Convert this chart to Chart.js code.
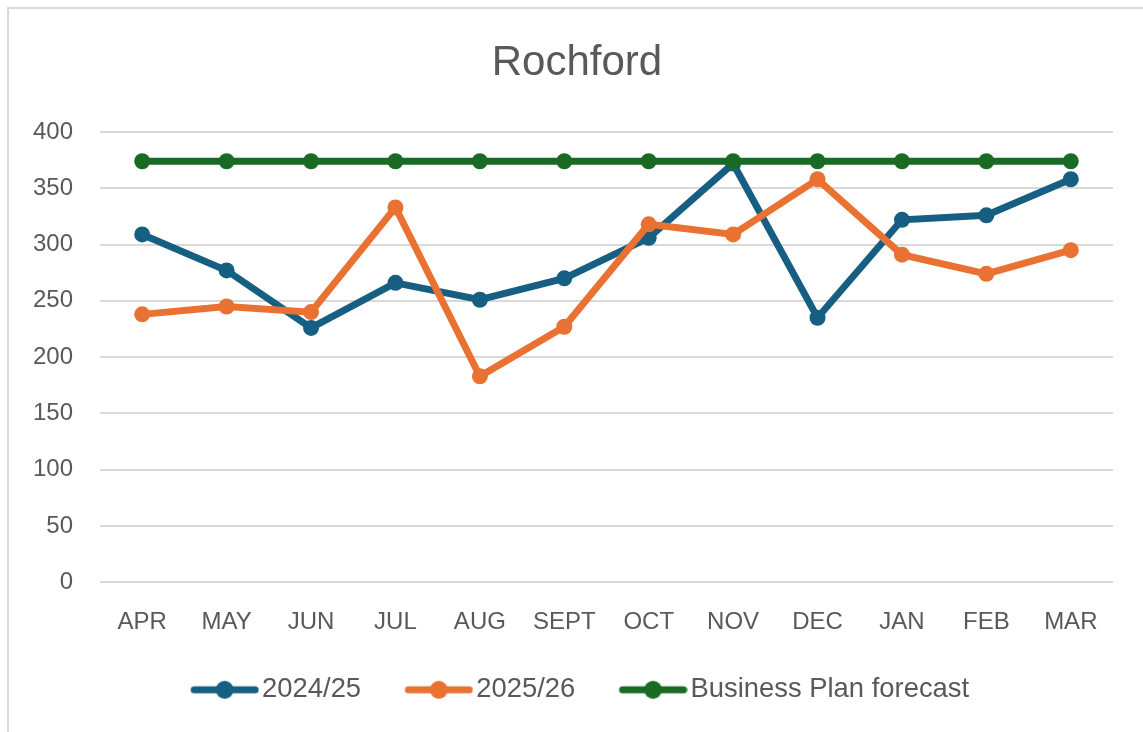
<!DOCTYPE html>
<html>
<head>
<meta charset="utf-8">
<script src="https://cdn.jsdelivr.net/npm/chart.js@4"></script>
<style>
  html, body { margin: 0; padding: 0; background: #fff; overflow: hidden; }
  #frame { position: absolute; left: 7px; top: 7px; width: 1160px; height: 760px; border: 2px solid #d9d9d9; box-sizing: border-box; }
  #c { position: absolute; left: 0; top: 0; }
</style>
</head>
<body>
<div id="frame"></div>
<canvas id="c" width="1143" height="732"></canvas>
<script>
const months = ['APR', 'MAY', 'JUN', 'JUL', 'AUG', 'SEPT', 'OCT', 'NOV', 'DEC', 'JAN', 'FEB', 'MAR'];
const year2425 = [309, 277, 226, 266, 251, 270, 306, 372, 235, 322, 326, 358];
const year2526 = [238, 245, 240, 333, 183, 227, 318, 309, 358, 291, 274, 295];
const forecast = [374, 374, 374, 374, 374, 374, 374, 374, 374, 374, 374, 374];
const yTicks = [0, 50, 100, 150, 200, 250, 300, 350, 400];

const BLUE = '#175f82';
const ORANGE = '#e97132';
const GREEN = '#196b24';
const TEXT = '#595959';
const FONT = '"Liberation Sans", Arial, sans-serif';

// line+dot swatch for the legend; line sits right of the image centre so the text hugs it
function swatch(color) {
  const cv = document.createElement('canvas');
  cv.width = 82; cv.height = 22;
  const g = cv.getContext('2d');
  g.strokeStyle = color; g.lineWidth = 7; g.lineCap = 'round';
  g.beginPath(); g.moveTo(17, 11); g.lineTo(78, 11); g.stroke();
  g.fillStyle = color;
  g.beginPath(); g.arc(47.5, 11, 9, 0, Math.PI * 2); g.fill();
  return cv;
}
const swatches = [swatch(BLUE), swatch(ORANGE), swatch(GREEN)];

function series(label, data, color, order) {
  return {
    label, data, order,
    borderColor: color, backgroundColor: color,
    borderWidth: 7, tension: 0,
    pointRadius: 8, pointHoverRadius: 8,
    pointBackgroundColor: color, pointBorderColor: color, pointBorderWidth: 0
  };
}

// nudge title and legend so they centre like the original, not over the padded box
const nudge = {
  id: 'nudge',
  afterLayout(chart) {
    chart.titleBlock.left += 41;
    chart.legend.left += 22;
    chart.legend.right += 22;
  }
};

new Chart(document.getElementById('c'), {
  type: 'line',
  data: {
    labels: months,
    datasets: [
      series('2024/25', year2425, BLUE, 3),
      series('2025/26', year2526, ORANGE, 2),
      series('Business Plan forecast', forecast, GREEN, 1)
    ]
  },
  plugins: [nudge],
  options: {
    responsive: false,
    animation: false,
    layout: { padding: { left: 0, right: 30, top: 0, bottom: 18.5 } },
    scales: {
      x: {
        offset: true,
        grid: { display: false, drawTicks: false },
        border: { display: false },
        ticks: { color: TEXT, font: { family: FONT, size: 24 }, padding: 26, maxRotation: 0, autoSkip: false },
        afterFit: (s) => { s.height = 52.8; }
      },
      y: {
        min: 0, max: 400,
        afterBuildTicks: (s) => { s.ticks = yTicks.map(v => ({ value: v })); },
        grid: { color: '#d9d9d9', lineWidth: 2, drawTicks: false },
        border: { display: false },
        ticks: { color: TEXT, font: { family: FONT, size: 24 }, padding: 27 },
        afterFit: (s) => { s.width = 100; }
      }
    },
    plugins: {
      title: {
        display: true, text: 'Rochford', color: TEXT,
        font: { family: FONT, size: 42, weight: 'normal' },
        padding: { top: 38, bottom: 43.6 }
      },
      legend: {
        position: 'bottom',
        labels: {
          color: TEXT, font: { family: FONT, size: 27.4 },
          usePointStyle: true, pointStyleWidth: 60.5, boxHeight: 22, padding: 41,
          generateLabels: (chart) => {
            const items = Chart.defaults.plugins.legend.labels.generateLabels(chart);
            items.sort((a, b) => a.datasetIndex - b.datasetIndex);
            items.forEach(it => { it.pointStyle = swatches[it.datasetIndex]; it.lineWidth = 0; });
            return items;
          }
        }
      },
      tooltip: { enabled: false }
    }
  }
});
</script>
</body>
</html>
